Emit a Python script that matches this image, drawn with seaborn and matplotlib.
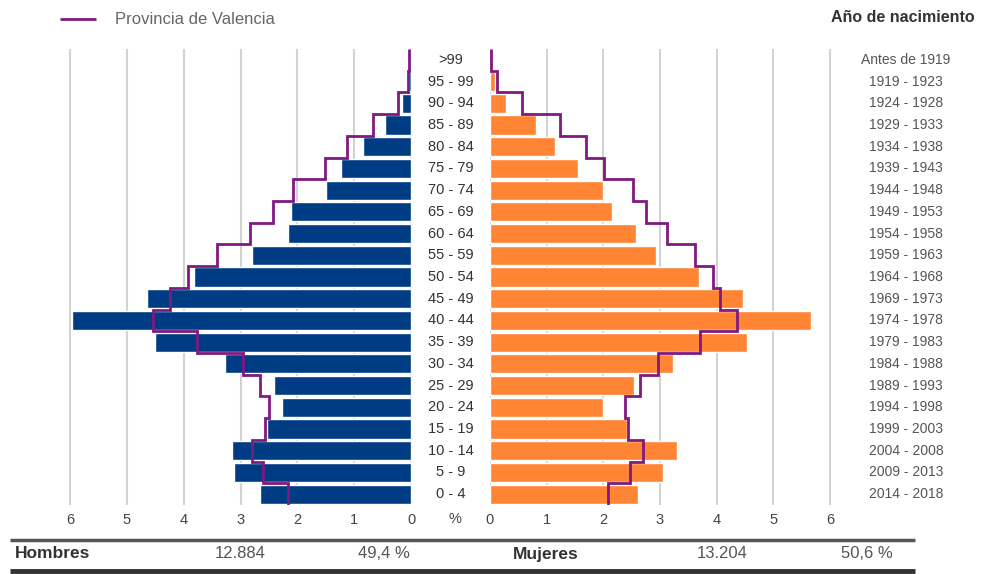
import matplotlib
matplotlib.use("Agg")
import matplotlib.pyplot as plt
import matplotlib.transforms as mtransforms
import numpy as np
import pandas as pd
import seaborn as sns

# age groups, top to bottom
grupos = ['>99', '95 - 99', '90 - 94', '85 - 89', '80 - 84', '75 - 79', '70 - 74',
          '65 - 69', '60 - 64', '55 - 59', '50 - 54', '45 - 49', '40 - 44', '35 - 39',
          '30 - 34', '25 - 29', '20 - 24', '15 - 19', '10 - 14', '5 - 9', '0 - 4']
nacimiento = ['Antes de 1919', '1919 - 1923', '1924 - 1928', '1929 - 1933', '1934 - 1938',
              '1939 - 1943', '1944 - 1948', '1949 - 1953', '1954 - 1958', '1959 - 1963',
              '1964 - 1968', '1969 - 1973', '1974 - 1978', '1979 - 1983', '1984 - 1988',
              '1989 - 1993', '1994 - 1998', '1999 - 2003', '2004 - 2008', '2009 - 2013',
              '2014 - 2018']

# % of population (municipality)
hombres = [0.01, 0.03, 0.16, 0.46, 0.84, 1.23, 1.50, 2.11, 2.17, 2.80, 3.82,
           4.65, 5.97, 4.51, 3.27, 2.41, 2.27, 2.54, 3.15, 3.12, 2.66]
mujeres = [0.02, 0.09, 0.29, 0.82, 1.15, 1.55, 2.00, 2.15, 2.57, 2.93, 3.69,
           4.47, 5.66, 4.53, 3.23, 2.54, 1.99, 2.41, 3.30, 3.05, 2.61]
# % of population (Provincia de Valencia)
prov_hombres = [0.03, 0.05, 0.23, 0.67, 1.13, 1.51, 2.08, 2.43, 2.83, 3.42, 3.93,
                4.24, 4.54, 3.77, 2.96, 2.66, 2.50, 2.57, 2.80, 2.61, 2.17]
prov_mujeres = [0.02, 0.12, 0.56, 1.23, 1.70, 2.01, 2.53, 2.76, 3.13, 3.62, 3.94,
                4.06, 4.35, 3.70, 2.96, 2.65, 2.39, 2.43, 2.70, 2.47, 2.08]

totales = [('Hombres', '12.884', '49,4 %'), ('Mujeres', '13.204', '50,6 %')]

AZUL = '#003c84'
NARANJA = '#ff8534'
LINEA = '#7e1a80'
GRIS = '#444444'

sns.set_style('white')
plt.rcParams['font.family'] = ['Liberation Sans', 'DejaVu Sans']

df = pd.DataFrame({'grupo': grupos, 'hombres': hombres, 'mujeres': mujeres})

fig = plt.figure(figsize=(9.92, 5.74), dpi=100)
ax_h = fig.add_axes([60 / 992, 69 / 574, 351 / 992, 456 / 574])
ax_m = fig.add_axes([490 / 992, 69 / 574, 350 / 992, 456 / 574])

sns.barplot(data=df, x='hombres', y='grupo', order=grupos, color=AZUL,
            width=0.88, saturation=1, ax=ax_h)
sns.barplot(data=df, x='mujeres', y='grupo', order=grupos, color=NARANJA,
            width=0.88, saturation=1, ax=ax_m)

edges = np.arange(len(grupos) + 1) - 0.5
ax_h.stairs(prov_hombres, edges, orientation='horizontal', baseline=None,
            color=LINEA, lw=2, zorder=5)
ax_m.stairs(prov_mujeres, edges, orientation='horizontal', baseline=None,
            color=LINEA, lw=2, zorder=5)

ax_h.set_xlim(6.176, 0)
ax_m.set_xlim(0, 6.176)
for ax in (ax_h, ax_m):
    ax.set_ylim(len(grupos) - 0.5, -0.5)
    ax.set_xticks(range(7))
    ax.set_yticks([])
    ax.set_xlabel('')
    ax.set_ylabel('')
    ax.grid(axis='x', color='#d2d2d2', lw=1.5)
    ax.set_axisbelow(True)
    for s in ax.spines.values():
        s.set_visible(False)
    ax.tick_params(axis='x', length=0, pad=6, labelsize=10.5, labelcolor=GRIS)
    ax.patch.set_alpha(0)

# centre age labels and birth year labels
trans = mtransforms.blended_transform_factory(fig.transFigure, ax_h.transData)
for i, (g, n) in enumerate(zip(grupos, nacimiento)):
    fig.text(451 / 992, i, g, transform=trans, ha='center', va='center',
             fontsize=10.5, color='#333333')
    fig.text(906 / 992, i, n, transform=trans, ha='center', va='center',
             fontsize=10, color='#555555')

fig.text(455 / 992, 1 - 519 / 574, '%', ha='center', va='center',
         fontsize=10.5, color=GRIS)

# header: legend and title
fig.add_artist(plt.Line2D([60 / 992, 96 / 992], [1 - 19 / 574] * 2,
                          color=LINEA, lw=2, solid_capstyle='butt'))
fig.text(115 / 992, 1 - 19 / 574, 'Provincia de Valencia', ha='left', va='center',
         fontsize=12, color='#666666')
fig.text(903 / 992, 1 - 18 / 574, 'Año de nacimiento', ha='center', va='center',
         fontsize=11.5, color='#333333', fontweight='bold')

# totals table
fig.add_artist(plt.Line2D([10 / 992, 915 / 992], [1 - 540 / 574] * 2,
                          color='#555555', lw=2.5, solid_capstyle='butt'))
fig.add_artist(plt.Line2D([10 / 992, 915 / 992], [1 - 571 / 574] * 2,
                          color='#333333', lw=3.5, solid_capstyle='butt'))
y_tab = 1 - 554 / 574
for (nombre, num, pct), (x0, x1, x2) in zip(totales, [(15, 240, 410), (513, 722, 893)]):
    fig.text(x0 / 992, y_tab, nombre, ha='left', va='center', fontsize=12.5,
             fontweight='bold', color='#333333')
    fig.text(x1 / 992, y_tab, num, ha='center', va='center', fontsize=12,
             color='#555555')
    fig.text(x2 / 992, y_tab, pct, ha='right', va='center', fontsize=12,
             color='#555555')

fig.savefig('out.png', dpi=100)
